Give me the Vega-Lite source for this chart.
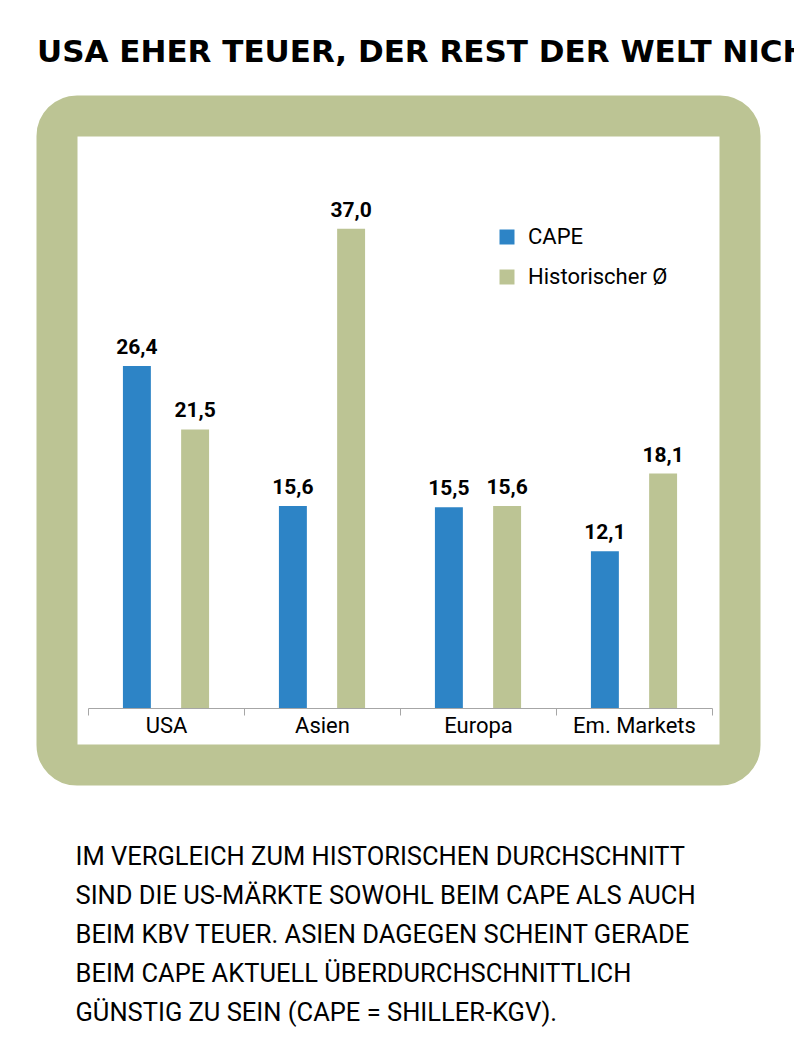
{
  "$schema": "https://vega.github.io/schema/vega-lite/v6.json",
  "width": 683,
  "height": 649,
  "autosize": {"type": "none"},
  "padding": {"left": 57, "top": 116, "right": 54, "bottom": 287},
  "background": "white",
  "config": {
    "view": {"stroke": "#bcc494", "strokeWidth": 41, "cornerRadius": 20, "fill": "white"},
    "locale": {"number": {"decimal": ",", "thousands": ".", "grouping": [3], "currency": ["", " €"]}}
  },
  "title": {
    "text": "USA EHER TEUER, DER REST DER WELT NICHT",
    "anchor": "start",
    "frame": "group",
    "dx": -20,
    "offset": 47,
    "font": "DejaVu Sans",
    "fontSize": 31,
    "fontWeight": "bold",
    "color": "#000000"
  },
  "data": {
    "values": [
      {"region": "USA", "series": "CAPE", "value": 26.4},
      {"region": "USA", "series": "Historischer Ø", "value": 21.5},
      {"region": "Asien", "series": "CAPE", "value": 15.6},
      {"region": "Asien", "series": "Historischer Ø", "value": 37.0},
      {"region": "Europa", "series": "CAPE", "value": 15.5},
      {"region": "Europa", "series": "Historischer Ø", "value": 15.6},
      {"region": "Em. Markets", "series": "CAPE", "value": 12.1},
      {"region": "Em. Markets", "series": "Historischer Ø", "value": 18.1}
    ]
  },
  "encoding": {
    "x": {
      "field": "region",
      "type": "nominal",
      "sort": ["USA", "Asien", "Europa", "Em. Markets"],
      "scale": {"range": [31, 655], "paddingInner": 0, "paddingOuter": 0},
      "axis": {
        "title": [
          "IM VERGLEICH ZUM HISTORISCHEN DURCHSCHNITT",
          "SIND DIE US-MÄRKTE SOWOHL BEIM CAPE ALS AUCH",
          "BEIM KBV TEUER. ASIEN DAGEGEN SCHEINT GERADE",
          "BEIM CAPE AKTUELL ÜBERDURCHSCHNITTLICH",
          "GÜNSTIG ZU SEIN (CAPE = SHILLER-KGV)."
        ],
        "orient": "bottom",
        "offset": -57,
        "grid": false,
        "domainColor": "#a6a6a6",
        "tickColor": "#a6a6a6",
        "tickSize": 7,
        "tickBand": "extent",
        "labelFont": "Roboto",
        "labelFontSize": 22,
        "labelColor": "#000000",
        "labelPadding": 0,
        "labelAngle": 0,
        "titleFont": "Roboto",
        "titleFontSize": 25.5,
        "titleFontWeight": "normal",
        "titleColor": "#000000",
        "titleAnchor": "start",
        "titleAlign": "left",
        "titleX": 18,
        "titleY": 156,
        "titleBaseline": "alphabetic",
        "titleLineHeight": 39
      }
    },
    "xOffset": {
      "field": "series",
      "type": "nominal",
      "sort": ["CAPE", "Historischer Ø"],
      "scale": {"paddingInner": 0.52, "paddingOuter": 0.6}
    },
    "y": {
      "field": "value",
      "type": "quantitative",
      "scale": {"domain": [-4.4, 45.7], "nice": false, "zero": false},
      "axis": null
    }
  },
  "layer": [
    {
      "mark": {"type": "bar"},
      "encoding": {
        "color": {
          "field": "series",
          "type": "nominal",
          "scale": {"domain": ["CAPE", "Historischer Ø"], "range": ["#2d84c6", "#bcc494"]},
          "legend": {
            "title": null,
            "orient": "none",
            "legendX": 439,
            "legendY": 110,
            "symbolType": "square",
            "symbolSize": 225,
            "symbolStrokeWidth": 0,
            "labelFont": "Roboto",
            "labelFontSize": 22,
            "labelColor": "#000000",
            "labelOffset": 10,
            "rowPadding": 18,
            "padding": 0
          }
        }
      }
    },
    {
      "mark": {"type": "text", "baseline": "bottom", "dy": -8, "font": "Roboto", "fontWeight": "bold", "fontSize": 21, "color": "#000000"},
      "encoding": {
        "text": {"field": "value", "type": "quantitative", "format": ".1f"}
      }
    }
  ]
}
